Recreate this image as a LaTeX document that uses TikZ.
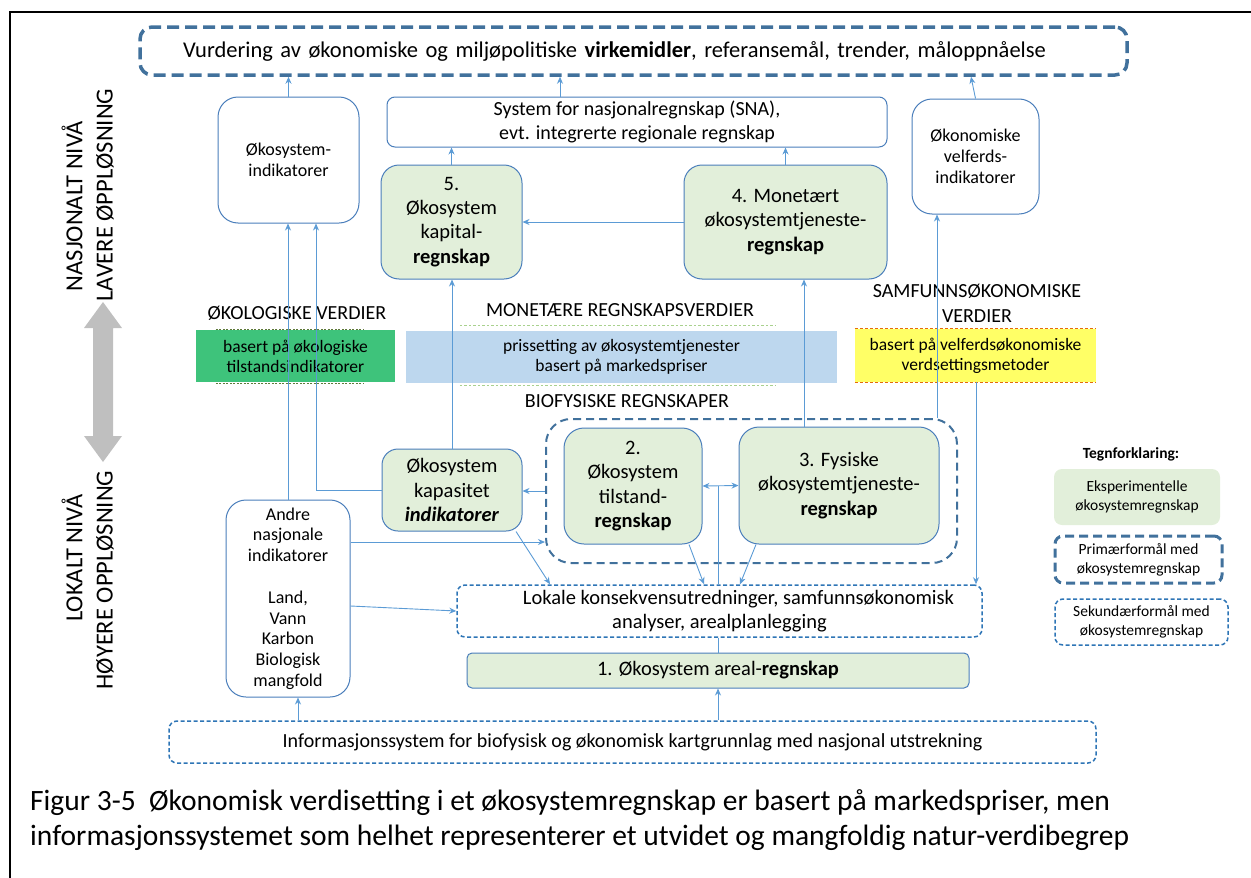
\documentclass[tikz,border=0pt]{standalone}
\usepackage{fontspec}
\setmainfont{Carlito}
\usetikzlibrary{arrows.meta,calc}
\definecolor{cLine}{HTML}{5B9BD5}
\definecolor{cBox}{HTML}{4A7EBB}
\definecolor{cPrim}{HTML}{41719C}
\definecolor{cSec}{HTML}{2E75B6}
\definecolor{cGreen}{HTML}{E2EFDA}
\definecolor{cGval}{RGB}{62,195,123}
\definecolor{cBval}{HTML}{BDD7EE}
\definecolor{cYval}{HTML}{FFFF66}
\definecolor{cGray}{HTML}{BFBFBF}
\definecolor{cOlive}{HTML}{5E7A3A}
\definecolor{cLgreen}{HTML}{A9D18E}
\definecolor{cOrange}{HTML}{E46C0A}
\tikzset{
  conn/.style={draw=cLine, line width=0.9pt, -{Stealth[length=7pt,width=6pt]}},
  dconn/.style={draw=cLine, line width=0.9pt, {Stealth[length=7pt,width=6pt]}-{Stealth[length=7pt,width=6pt]}},
  plainline/.style={draw=cLine, line width=0.9pt},
  wbox/.style={draw=cBox, line width=1pt, fill=white, rounded corners=#1, inner sep=0pt, align=center},
  wbox/.default=18pt,
  gbox/.style={draw=cBox, line width=1pt, fill=cGreen, rounded corners=#1, inner sep=0pt, align=center},
  gbox/.default=18pt,
  prim/.style={draw=cPrim, line width=3.5pt, dash pattern=on 12pt off 6pt, rounded corners=12pt, inner sep=0pt, fill=white},
  sec/.style={draw=cSec, line width=1.5pt, dash pattern=on 4pt off 2.5pt, rounded corners=8pt, inner sep=0pt, align=center, fill=white},
  bioframe/.style={draw=cPrim, line width=2pt, dash pattern=on 8pt off 5pt, rounded corners=25pt, inner sep=0pt},
  valbox/.style={inner sep=0pt, align=center},
  fleg/.style={font=\fontsize{15.5}{19}\selectfont},
  fval/.style={font=\fontsize{17.5}{20}\selectfont},
  fsmall/.style={font=\fontsize{18}{20.8}\selectfont},
  fhead/.style={font=\fontsize{20}{25}\selectfont},
  fmid/.style={font=\fontsize{20}{24}\selectfont},
  fbig/.style={font=\fontsize{20.5}{24.3}\selectfont},
  ftop/.style={font=\fontsize{22.5}{26}\selectfont},
  fside/.style={font=\fontsize{24.5}{28}\selectfont},
  fcap/.style={font=\fontsize{29.5}{35}\selectfont},
}
\begin{document}
\begin{tikzpicture}[x=1pt,y=-1pt]
\useasboundingbox (0,0) rectangle (1251,878);
\draw[black, line width=2pt] (10,878) -- (10,12) -- (1251,12);

% helper x / y coordinates
\coordinate (x298) at (298,0);
\coordinate (x316) at (316,0);
\coordinate (x516) at (516,0);
\coordinate (x550) at (550,0);
\coordinate (x560) at (560,0);
\coordinate (x689) at (689,0);
\coordinate (x704) at (704,0);
\coordinate (x718) at (718,0);
\coordinate (x740) at (740,0);
\coordinate (x756) at (756,0);
\coordinate (x804) at (804,0);
\coordinate (x937) at (937,0);
\coordinate (x971) at (971,0);
\coordinate (x976) at (976,0);
\coordinate (y542) at (0,542);
\coordinate (y606) at (0,606);

% left side level labels
\fill[cGray] (103,302) -- (122,328) -- (113,328) -- (113,436) -- (122,436) -- (103,462)
  -- (84,436) -- (93,436) -- (93,328) -- (84,328) -- cycle;
\node[fside, rotate=90] (nasj) at (72,206) {NASJONALT NIVÅ};
\node[fside, rotate=90] (lav) at (105,195) {LAVERE ØPPLØSNING};
\node[fside, rotate=90] (lok1) at (72,558) {LOKALT NIVÅ};
\node[fside, rotate=90] (hoy) at (105,580) {HØYERE OPPLØSNING};

% value boxes
\node[valbox, fill=cGval, minimum width=199pt, minimum height=52pt, fval] (gv) at (295.5,356)
  {basert på økologiske\\tilstandsindikatorer};
\node[valbox, fill=cBval, minimum width=431pt, minimum height=52pt, fval] (bv) at (621.5,357)
  {prissetting av økosystemtjenester\\basert på markedspriser};
\node[valbox, fill=cYval, minimum width=241pt, minimum height=53pt, fval] (yv) at (975.5,355.5)
  {basert på velferdsøkonomiske\\verdsettingsmetoder};
\draw[cOlive, line width=1.3pt, dash pattern=on 2pt off 1.5pt]
  ($(gv.north west)+(20,0)$) -- ($(gv.north east)+(-32,0)$)
  ($(gv.south west)+(20,1)$) -- ($(gv.south east)+(-32,1)$);
\draw[cLgreen, line width=1.2pt, dash pattern=on 2.5pt off 2pt]
  ($(bv.north west)+(54,-5)$) -- ($(bv.north east)+(-62,-5)$)
  ($(bv.south west)+(54,2)$) -- ($(bv.south east)+(-62,2)$);
\draw[cOrange, line width=0.9pt, dash pattern=on 3pt off 2pt]
  (yv.north west) -- (yv.north east) (yv.south west) -- (yv.south east);

\node[fhead] (ekoT) at (297,313) {ØKOLOGISKE VERDIER};
\node[fhead] (monT) at (620,310) {MONETÆRE REGNSKAPSVERDIER};
\node[fhead] (bioT) at (627,401) {BIOFYSISKE REGNSKAPER};
\node[fhead, align=center] (samT) at (977,303) {SAMFUNNSØKONOMISKE\\VERDIER};

% main boxes
\node[prim, minimum width=987pt, minimum height=48pt, text width=901pt, inner xsep=43pt, align=left, ftop] (top) at (633.5,51)
  {Vurdering av økonomiske og miljøpolitiske \textbf{virkemidler}, referansemål, trender, måloppnåelse};
\node[wbox=20pt, minimum width=141pt, minimum height=126pt, fsmall] (ind) at (288.5,160)
  {Økosystem-\\indikatorer};
\node[wbox=8pt, minimum width=500pt, minimum height=50pt, fmid] (sna) at (637,122)
  {System for nasjonalregnskap (SNA),\\evt. integrerte regionale regnskap};
\node[wbox=20pt, minimum width=127pt, minimum height=115pt, fsmall] (velf) at (975.5,156.5)
  {Økonomiske\\velferds-\\indikatorer};
\node[gbox, minimum width=141pt, minimum height=114pt, fbig] (b5) at (451.5,222)
  {5.\\Økosystem\\kapital-\\\textbf{regnskap}};
\node[gbox, minimum width=203pt, minimum height=114pt, fbig] (b4) at (785.5,222)
  {4. Monetært\\økosystemtjeneste-\\\textbf{regnskap}};

\node[bioframe, minimum width=411pt, minimum height=144pt] (bio) at (751.5,491) {};
\node[gbox=16pt, minimum width=140pt, minimum height=82pt, fbig] (kap) at (452,490)
  {Økosystem\\kapasitet\\\textbf{\textit{indikatorer}}};
\node[gbox=20pt, minimum width=138pt, minimum height=116pt, fbig] (b2) at (633,486)
  {2.\\Økosystem\\tilstand-\\\textbf{regnskap}};
\node[gbox=20pt, minimum width=200pt, minimum height=117pt, fbig] (b3) at (839,485.5)
  {3. Fysiske\\økosystemtjeneste-\\\textbf{regnskap}};
\node[wbox=20pt, minimum width=124pt, minimum height=197pt, fsmall] (andre) at (288,598.5)
  {Andre\\nasjonale\\indikatorer\\[20.8pt]Land,\\Vann\\Karbon\\Biologisk\\mangfold};
\node[sec, minimum width=525pt, minimum height=52pt, fbig] (lok) at (719.5,611)
  {\hspace*{38pt}Lokale konsekvensutredninger, samfunnsøkonomisk\\analyser, arealplanlegging};
\node[gbox=5pt, minimum width=502pt, minimum height=35pt, fbig] (b1) at (718,670.5)
  {1. Økosystem areal-\textbf{regnskap}};
\node[sec, minimum width=927pt, minimum height=42pt, fmid] (info) at (632.5,742)
  {Informasjonssystem for biofysisk og økonomisk kartgrunnlag med nasjonal utstrekning};

% legend
\node[fleg, font=\fontsize{15.5}{19}\selectfont\bfseries] (tegn) at (1131,454) {Tegnforklaring:};
\node[fill=cGreen, rounded corners=8pt, minimum width=166pt, minimum height=56pt, inner sep=0pt, align=center, fleg] (legG) at (1137,497)
  {Eksperimentelle\\økosystemregnskap};
\node[prim, line width=3pt, dash pattern=on 9pt off 5pt, rounded corners=8pt, minimum width=167pt, minimum height=47pt, align=center, fleg] (legP) at (1138.5,559.5)
  {Primærformål med\\økosystemregnskap};
\node[sec, minimum width=173pt, minimum height=46pt, fleg] (legS) at (1141.5,622)
  {Sekundærformål med\\økosystemregnskap};

% connectors
\draw[conn] (ind.north) -- (ind.north |- top.south);
\draw[conn] (sna.north -| x560) -- (top.south -| x560);
\draw[conn] (velf.north) -- (top.south -| x971);
\draw[conn] (b5.north) -- (b5.north |- sna.south);
\draw[conn] (b4.north) -- (b4.north |- sna.south);
\draw[conn] (b4.west) -- (b5.east);
\draw[conn] (kap.north) -- (kap.north |- b5.south);
\draw[conn] (b3.north -| x804) -- (b4.south -| x804);
\draw[conn] (andre.north) -- (andre.north |- ind.south);
\draw[conn] (kap.west) -| (x316 |- ind.south);
\draw[conn] (bio.north -| x937) -- (velf.south -| x937);
\draw[conn] (yv.south -| x976) -- (lok.north -| x976);
\draw[conn] (bio.west) -- (bio.west -| kap.east);
\draw[conn] (andre.east |- y542) -- (bio.west |- y542);
\draw[conn] (andre.east |- y606) -- (lok.west);
\draw[conn] (kap.south -| x516) -- (lok.north -| x550);
\draw[conn] (b2.south -| x689) -- (lok.north -| x704);
\draw[conn] (b3.south -| x756) -- (lok.north -| x740);
\draw[dconn] (b2.east) -- (b3.west);
\draw[plainline] (lok.north -| x718) -- (x718 |- b2.east);
\draw[plainline] (b1.north) -- (b1.north |- lok.south);
\draw[conn] (info.north -| x718) -- (b1.south);
\draw[conn] (info.north -| x298) -- (andre.south -| x298);

% caption
\node[fcap, anchor=west, align=left, inner sep=0pt] (cap) at (30,820.5)
  {Figur 3-5\ \ Økonomisk verdisetting i et økosystemregnskap er basert på markedspriser, men\\informasjonssystemet som helhet representerer et utvidet og mangfoldig natur-verdibegrep};
\end{tikzpicture}
\end{document}
